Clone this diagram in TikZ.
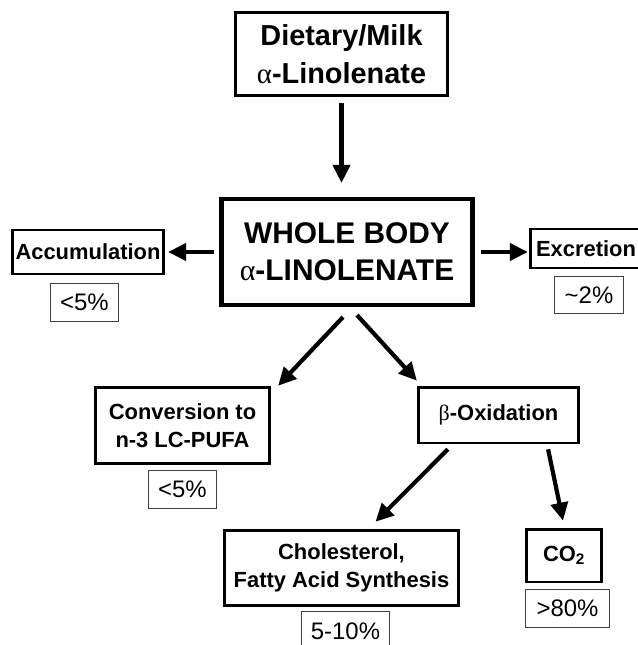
\documentclass[tikz,border=0pt]{standalone}
\usepackage{fontspec}
\setmainfont{Liberation Sans}
\newfontfamily\greekfont{Liberation Serif}
\usetikzlibrary{arrows.meta,calc,positioning}
\tikzset{
    flowbox/.style={
        draw, line width=2.8bp, align=center, inner sep=0pt,
        font=\fontsize{22}{28}\selectfont\bfseries
    },
    bodybox/.style={
        flowbox, line width=4.6bp,
        font=\fontsize{30}{37}\selectfont\bfseries
    },
    pctbox/.style={
        draw=black!75, line width=1bp, inner sep=0pt,
        font=\fontsize{24}{28}\selectfont
    },
    flow/.style={
        line width=4.2bp,
        -{Triangle[length=18bp,width=17bp]}
    }
}

\begin{document}
\begin{tikzpicture}[x=1bp,y=-1bp]
                \useasboundingbox (0,0) rectangle (638,645);
                \node[flowbox, minimum width=213, minimum height=83,
                      font=\fontsize{29}{38}\selectfont\bfseries]
                     (diet) at (341.5,54) {Dietary/Milk\\{\mdseries\greekfont α}-Linolenate};
                \node[bodybox, minimum width=252, minimum height=106]
                     (body) at (347,252) {WHOLE BODY\\{\mdseries\greekfont α}-LINOLENATE};
                \node[flowbox, minimum width=152, minimum height=44]
                     (accum) at (88,252) {Accumulation};
                \node[pctbox, minimum width=69, minimum height=39]
                     (accumpct) at (84.5,302.5) {<5\%};
                \node[flowbox, minimum width=112, minimum height=39]
                     (excr) at (586,248.5) {Excretion};
                \node[pctbox, minimum width=70, minimum height=38]
                     (excrpct) at (589,295) {\textasciitilde2\%};
                \node[flowbox, minimum width=175, minimum height=77]
                     (conv) at (182.5,425.5) {Conversion to\\n-3 LC-PUFA};
                \node[pctbox, minimum width=69, minimum height=39]
                     (convpct) at (182.5,489.5) {<5\%};
                \node[flowbox, minimum width=161, minimum height=56]
                     (betaox) at (498.5,415) {{\mdseries\greekfont β}-Oxidation};
                \node[flowbox, minimum width=235, minimum height=76]
                     (synth) at (341.5,568) {Cholesterol,\\Fatty Acid Synthesis};
                \node[pctbox, minimum width=89, minimum height=39]
                     (synthpct) at (345.5,631) {5-10\%};
                \node[flowbox, minimum width=76, minimum height=53]
                     (cotwo) at (564,555.5) {CO\textsubscript{2}};
                \node[pctbox, minimum width=85, minimum height=39]
                     (cotwopct) at (567.5,608.5) {>80\%};
                \draw[flow] ($(diet.south)+(0,6)$) -- ($(diet.south |- body.north)+(0,-14)$);
                \draw[flow, shorten <=5bp, shorten >=3bp] (body.west) -- (accum.east);
                \draw[flow, shorten <=6bp, shorten >=1bp] (body.east) -- (body.east -| excr.west);
                \draw[flow] ($(body.south)+(-4,10)$) -- ($(conv.north east)+(7,0)$);
                \draw[flow] ($(body.south)+(10,8)$) -- ($(betaox.north west)+(0,-5)$);
                \draw[flow] ($(betaox.south west)+(31,5)$) -- ($(synth.north)+(34,-7)$);
                \draw[flow] ($(betaox.south east)+(-32,5)$) -- ($(cotwo.north)+(-1,-7)$);
            \end{tikzpicture}
\end{document}
